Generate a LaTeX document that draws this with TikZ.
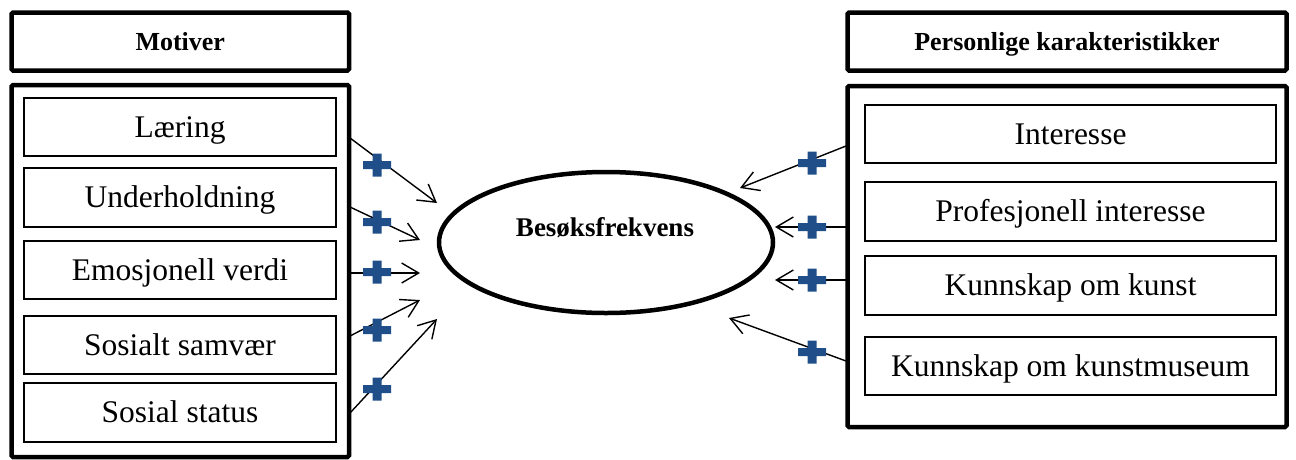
\documentclass[tikz,border=0pt]{standalone}
\usepackage{fontspec}
\setmainfont{Liberation Serif}
\usetikzlibrary{shapes.geometric,arrows.meta}
\definecolor{plusblue}{RGB}{31,78,137}
\newcommand\plusmark[1]{\fill[plusblue] (#1) ++(-14,-4) rectangle ++(28,8) (#1) ++(-4.5,-11.5) rectangle ++(9,23);}
\begin{document}
\begin{tikzpicture}[x=1pt,y=-1pt,
  headbox/.style={draw,line width=4.5pt,rounded corners=1.5pt,inner sep=0pt,
    font=\fontsize{26}{30}\selectfont\bfseries,text height=17.2pt,text depth=0pt},
  outerbox/.style={draw,line width=4.5pt,rounded corners=1.5pt,inner sep=0pt},
  itembox/.style={draw,line width=1.5pt,inner sep=0pt,
    font=\fontsize{31.5}{36}\selectfont,text height=20.8pt,text depth=0pt},
  conn/.style={line width=1.4pt,-{Straight Barb[length=17pt,width=20pt,line width=1.4pt]}}]
\useasboundingbox (0,0) rectangle (1296,459);
% left group
\node[headbox,minimum width=337.5,minimum height=58] (lh) at (180.25,41.5) {Motiver};
\node[outerbox,minimum width=337.5,minimum height=372] (lo) at (180.25,271) {};
\node[itembox,minimum width=312,minimum height=58] (l1) at (180,127) {Læring};
\node[itembox,minimum width=312,minimum height=59] (l2) at (180,197.5) {Underholdning};
\node[itembox,minimum width=312,minimum height=58] (l3) at (180,270) {Emosjonell verdi};
\node[itembox,minimum width=312,minimum height=58] (l4) at (180,345) {Sosialt samvær};
\node[itembox,minimum width=312,minimum height=59] (l5) at (180,412.5) {Sosial status};
% right group
\node[headbox,minimum width=439,minimum height=58] (rh) at (1067,41.5) {Personlige karakteristikker};
\node[outerbox,minimum width=439,minimum height=341] (ro) at (1067,256.5) {};
\node[itembox,minimum width=411,minimum height=58] (r1) at (1070.5,134) {Interesse};
\node[itembox,minimum width=411,minimum height=59] (r2) at (1070.5,211.5) {Profesjonell interesse};
\node[itembox,minimum width=411,minimum height=59] (r3) at (1070.5,285.5) {Kunnskap om kunst};
\node[itembox,minimum width=411,minimum height=58] (r4) at (1070.5,366) {Kunnskap om kunstmuseum};
% centre
\node[ellipse,draw,line width=4.5pt,inner sep=0pt,minimum width=334,minimum height=141] (bf) at (606,242.5) {};
\node[font=\fontsize{27}{30}\selectfont\bfseries,text height=17.8pt,text depth=0pt,inner sep=0pt] (bft) at (605,227.5) {Besøksfrekvens};
% connector end points
\coordinate (ls1) at (350,138); \coordinate (le1) at (437,203);
\coordinate (ls2) at (350,207); \coordinate (le2) at (420,240);
\coordinate (ls3) at (350,273); \coordinate (le3) at (420,273);
\coordinate (ls4) at (350,336); \coordinate (le4) at (420,300);
\coordinate (ls5) at (350,413); \coordinate (le5) at (437,319);
\coordinate (rs1) at (846,146); \coordinate (re1) at (740,188);
\coordinate (rs2) at (846,227); \coordinate (re2) at (775,227);
\coordinate (rs3) at (846,280); \coordinate (re3) at (775,280);
\coordinate (rs4) at (846,361); \coordinate (re4) at (729,318);
\foreach \i in {1,...,5} {\draw[conn] (ls\i) -- (le\i);}
\foreach \i in {1,...,4} {\draw[conn] (rs\i) -- (re\i);}
% plus signs
\coordinate (lp1) at (377,165); \coordinate (lp2) at (377,222);
\coordinate (lp3) at (377,272); \coordinate (lp4) at (377,330);
\coordinate (lp5) at (377,389);
\coordinate (rp1) at (812,163); \coordinate (rp2) at (812,227);
\coordinate (rp3) at (812,280); \coordinate (rp4) at (812,352);
\foreach \i in {1,...,5} {\plusmark{lp\i}}
\foreach \i in {1,...,4} {\plusmark{rp\i}}
\end{tikzpicture}
\end{document}
